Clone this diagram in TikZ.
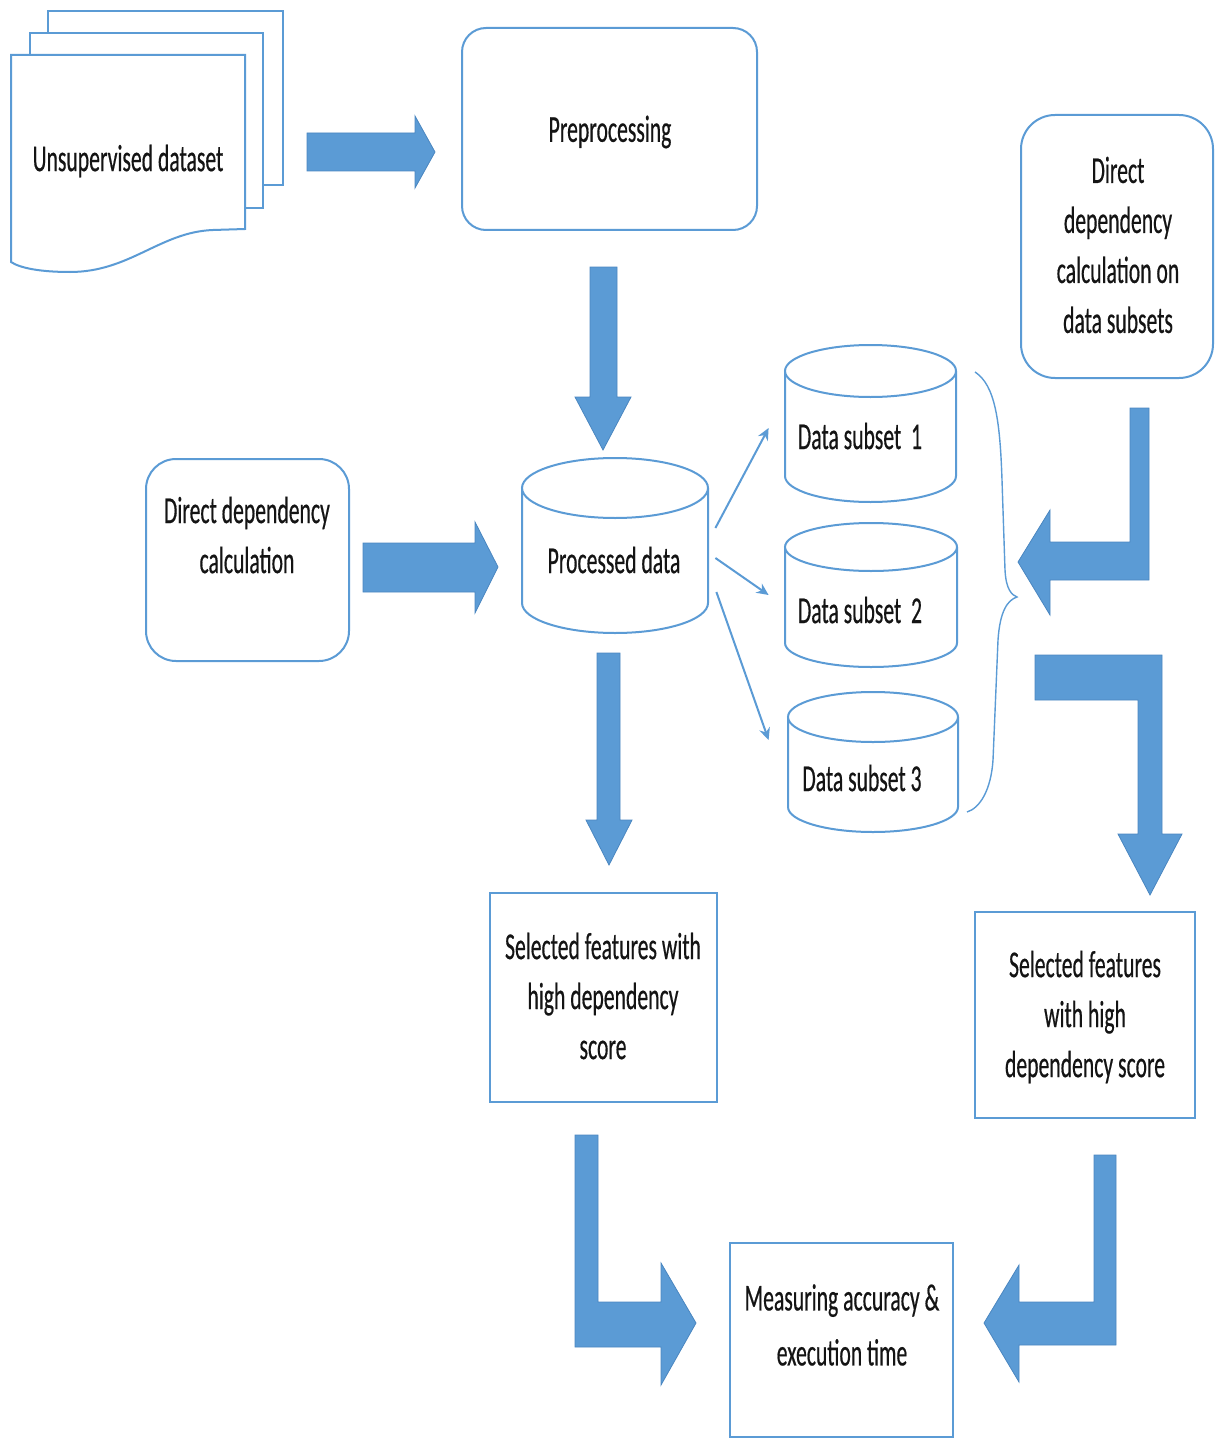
\documentclass[tikz,border=0pt]{standalone}
\usepackage{fontspec}
\setmainfont{Carlito}[FakeStretch=0.57, FakeBold=0.4]
\usetikzlibrary{arrows.meta}
\definecolor{obl}{HTML}{5B9BD5}
\definecolor{obd}{HTML}{4A86C0}
\tikzset{
  shapebox/.style={draw=obl, line width=1pt, fill=white, inner sep=0pt},
  roundbox/.style={shapebox, rounded corners=#1},
  lbl/.style={inner sep=0pt, align=center, font=\fontsize{19pt}{25pt}\selectfont, text=black!92},
  blockarrow/.style={fill=obl, draw=obd, line width=0.4pt, line join=miter},
  thinarrow/.style={draw=obl, line width=1pt, -{Stealth[length=6pt,width=5.5pt]}},
  cylbody/.style={draw=obl, line width=1pt, fill=white},
  page/.style={draw=obl, line width=1pt, fill=white},
  bracestyle/.style={draw=obl, line width=0.7pt},
  holder/.style={inner sep=0pt, draw=none},
}
\newcommand\drawcyl[5]{%
  \draw[cylbody] (#1-#4,#2) -- (#1-#4,#3) arc[start angle=180,end angle=0,x radius=#4,y radius=#5] -- (#1+#4,#2);
  \draw[cylbody] (#1,#2) ellipse[x radius=#4,y radius=#5];
}
\begin{document}
\begin{tikzpicture}[x=0.5pt,y=-0.5pt]
\useasboundingbox (0,0) rectangle (1215,1439);

% document stack
\draw[page] (48,11) rectangle (283,185);
\draw[page] (30,33) rectangle (263,208);
\draw[page] (11,55) -- (245,55) -- (245,229) -- (213,230) .. controls (160,232) and (130,272) .. (70,272) .. controls (40,272) and (20,268) .. (11,262) -- cycle;
\node[lbl] (ud) at (128,161) {Unsupervised dataset};

% preprocessing
\node[roundbox=12pt, minimum width=147.5pt, minimum height=101pt] (pre) at (609.5,129) {};
\node[lbl] (pret) at (610,132) {Preprocessing};

% direct dependency calculation
\node[roundbox=15pt, minimum width=101.5pt, minimum height=101pt] (ddc) at (247.5,560) {};
\node[lbl] (ddct) at (247,535) {Direct dependency\\calculation};

% direct dependency on subsets
\node[roundbox=17pt, minimum width=96pt, minimum height=131.5pt] (dds) at (1117,246.5) {};
\node[lbl] (ddst) at (1118,245) {Direct\\dependency\\calculation on\\data subsets};

% cylinders
\drawcyl{615}{488}{603}{93}{30}
\node[holder, minimum width=93pt, minimum height=87.5pt] (pd) at (615,545.5) {};
\node[lbl] (pdt) at (614,560) {Processed data};

\drawcyl{870.5}{371}{476}{85.5}{26}
\node[holder, minimum width=85.5pt, minimum height=78.5pt] (ds1) at (870.5,423.5) {};
\node[lbl] (ds1t) at (860,436) {Data subset\ \ 1};

\drawcyl{871}{547}{643}{86}{24}
\node[holder, minimum width=86pt, minimum height=72pt] (ds2) at (871,595) {};
\node[lbl] (ds2t) at (860,610) {Data subset\ \ 2};

\drawcyl{873}{717}{807}{85}{25}
\node[holder, minimum width=85pt, minimum height=70pt] (ds3) at (873,762) {};
\node[lbl] (ds3t) at (862,778) {Data subset 3};

% selected features boxes
\node[shapebox, minimum width=113.5pt, minimum height=104.5pt] (sf1) at (603.5,997.5) {};
\node[lbl] (sf1t) at (603,996) {Selected features with\\high dependency\\score};

\node[shapebox, minimum width=110pt, minimum height=103pt] (sf2) at (1085,1015) {};
\node[lbl] (sf2t) at (1085,1017) {Selected features\\with high\\dependency score};

% measuring box
\node[shapebox, minimum width=111.5pt, minimum height=97pt] (ma) at (841.5,1340) {};
\node[lbl, font=\fontsize{19pt}{27.5pt}\selectfont] (mat) at (842,1325) {Measuring accuracy \&\\execution time};

% thin arrows
\draw[thinarrow] ([shift={(7,-17.5)}]pd.east) -- ([shift={(-16,4.5)}]ds1.west);
\draw[thinarrow] ([shift={(7,12.5)}]pd.east) -- ([shift={(-16,0)}]ds2.west);
\draw[thinarrow] ([shift={(8,46.5)}]pd.east) -- ([shift={(-19,-22)}]ds3.west);

% brace
\draw[bracestyle] (975,372) .. controls (995,385) and (1000,420) .. (1002,480) -- (1005,570) .. controls (1006,590) and (1012,595) .. (1017,597) .. controls (1008,600) and (1000,610) .. (998,640) -- (993,760) .. controls (991,790) and (980,808) .. (967,812);

% block arrows
\draw[blockarrow] (307,133) -- (415,133) -- (415,116) -- (435,152) -- (415,188) -- (415,171) -- (307,171) -- cycle;
\draw[blockarrow] (590,267) -- (617,267) -- (617,397) -- (631,397) -- (603,450) -- (575,397) -- (590,397) -- cycle;
\draw[blockarrow] (363,543) -- (475,543) -- (475,522) -- (498,567) -- (475,613) -- (475,592) -- (363,592) -- cycle;
\draw[blockarrow] (597,653) -- (620,653) -- (620,820) -- (632,820) -- (609,865) -- (586,820) -- (597,820) -- cycle;
\draw[blockarrow] (1130,408) -- (1149,408) -- (1149,580) -- (1050,580) -- (1050,615) -- (1018,562) -- (1050,510) -- (1050,542) -- (1130,542) -- cycle;
\draw[blockarrow] (1035,655) -- (1162,655) -- (1162,834) -- (1182,834) -- (1150,895) -- (1118,834) -- (1138,834) -- (1138,700) -- (1035,700) -- cycle;
\draw[blockarrow] (575,1135) -- (598,1135) -- (598,1302) -- (661,1302) -- (661,1263) -- (696,1323) -- (661,1385) -- (661,1347) -- (575,1347) -- cycle;
\draw[blockarrow] (1094,1155) -- (1116,1155) -- (1116,1345) -- (1019,1345) -- (1019,1382) -- (984,1323) -- (1019,1265) -- (1019,1302) -- (1094,1302) -- cycle;
\end{tikzpicture}
\end{document}
